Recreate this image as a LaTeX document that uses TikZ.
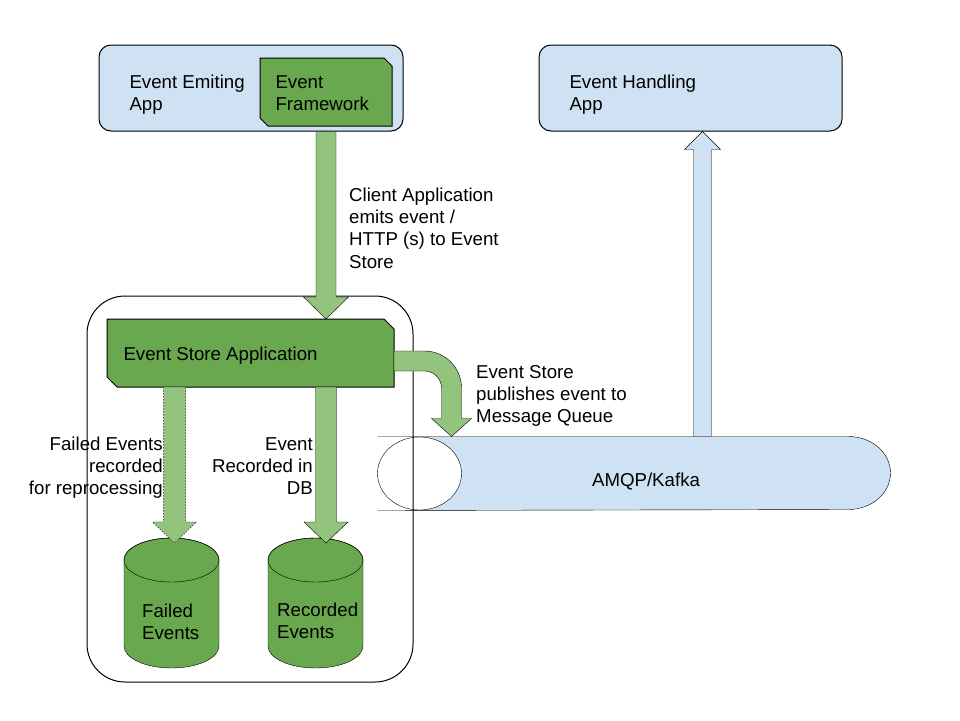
\documentclass[tikz,border=0pt]{standalone}
\usepackage{fontspec}
\setmainfont{Liberation Sans}
\usetikzlibrary{calc}
\usetikzlibrary{backgrounds}

\definecolor{appblue}{HTML}{CFE2F3}
\definecolor{darkgreen}{HTML}{6AA84F}
\definecolor{lightgreen}{HTML}{93C47D}

\tikzset{
  appbox/.style={draw, fill=appblue, rounded corners=12pt, minimum width=#1, minimum height=86pt},
  txt/.style={inner sep=0pt, align=left},
  fatgreen/.style={draw, fill=lightgreen},
  fatdash/.style={draw=black!65, fill=lightgreen, dash pattern=on 1.5pt off 1.5pt, line width=0.8pt},
  fatblue/.style={draw, fill=appblue},
  dbbody/.style={draw, fill=darkgreen}
}

\newcommand{\fatarrow}[6][]{%
  \coordinate (fa-tip) at (#2 |- #3);
  \filldraw[#1] ($(#2)+(-#4,0)$) -- ($(fa-tip)+(-#4,#6)$) -- ($(fa-tip)+(-#5,#6)$) -- (fa-tip)
    -- ($(fa-tip)+(#5,#6)$) -- ($(fa-tip)+(#4,#6)$) -- ($(#2)+(#4,0)$) -- cycle;}

\newcommand{\snipbox}[2]{%
  \filldraw[dbbody] (#1.north west) -- ($(#1.north east)+(-#2,0)$) -- ($(#1.north east)+(0,#2)$)
    -- (#1.south east) -- ($(#1.south west)+(#2,0)$) -- ($(#1.south west)+(0,-#2)$) -- cycle;}

\newcommand{\drawdb}[1]{%
  \filldraw[dbbody] ($(#1.north west)+(0,22)$) -- ($(#1.south west)+(0,-22)$)
    arc[start angle=180, end angle=0, x radius=47.5, y radius=22]
    -- ($(#1.north east)+(0,22)$)
    arc[start angle=0, end angle=-180, x radius=47.5, y radius=22] -- cycle;
  \draw ($(#1.north)+(0,22)$) ellipse[x radius=47.5, y radius=22];}

\begin{document}
\begin{tikzpicture}[x=1pt, y=-1pt, line width=1pt, font=\fontsize{18.67}{22.4}\selectfont]
\useasboundingbox (0,0) rectangle (960,720);

\node[appbox=304pt] (emitapp) at (251,88) {};
\node[appbox=303pt] (handleapp) at (690.5,88) {};
\node[minimum width=132pt, minimum height=68pt, outer sep=0pt] (framework) at (326,92) {};
\snipbox{framework}{8}
\node[txt, anchor=base west] (emittxt) at (129,110.4) {Event Emiting\\App};
\node[txt, anchor=base west] (fwktxt) at (275,110.4) {Event\\Framework};
\node[txt, anchor=base west] (handletxt) at (569,110.4) {Event Handling\\App};

\node[draw, rounded corners=38pt, minimum width=326pt, minimum height=386pt] (storebox) at (250,489) {};
\node[minimum width=287pt, minimum height=68pt, outer sep=0pt] (storeapp) at (250.5,353) {};
\snipbox{storeapp}{10}
\node[txt, anchor=base west] (storetxt) at (123,360) {Event Store Application};

% message queue, lying cylinder
\node[minimum width=512pt, minimum height=73pt] (mq) at (634,473.5) {};
\begin{pgfonlayer}{background}
\fill[appblue] (mq.north west -| storebox.east) -- ($(mq.north east)+(-42,0)$)
  arc[start angle=-90, end angle=90, x radius=42, y radius=36.5] -- (mq.south west -| storebox.east) -- cycle;
\filldraw[fill=white] ($(mq.west)+(42,0)$) ellipse[x radius=42, y radius=36.5];
\draw (mq.north west) -- ($(mq.north east)+(-42,0)$)
  arc[start angle=-90, end angle=90, x radius=42, y radius=36.5] -- (mq.south west);
\end{pgfonlayer}
\node[txt, anchor=base] (mqtxt) at (646,486) {AMQP/Kafka};

% databases
\node[minimum width=95pt, minimum height=130pt, outer sep=0pt] (faileddb) at (171.5,603) {};
\node[minimum width=95pt, minimum height=130pt, outer sep=0pt] (recordeddb) at (315.5,603) {};
\drawdb{faileddb}
\drawdb{recordeddb}
\node[txt, anchor=base west] (failtxt) at (142,639.4) {Failed\\Events};
\node[txt, anchor=base west] (rectxt) at (277,638.4) {Recorded\\Events};

% arrows
\coordinate (emitout) at (emitapp.south -| framework.south);
\fatarrow[fatgreen]{emitout}{storeapp.north}{10}{22.5}{-22}
\coordinate (failout) at ($(storeapp.south -| faileddb.north)+(3,0)$);
\coordinate (failin) at ($(faileddb.north)+(0,5)$);
\fatarrow[fatdash]{failout}{failin}{11}{22}{-21}
\coordinate (recout) at (storeapp.south -| emitout);
\coordinate (recin) at ($(recordeddb.north)+(0,5)$);
\fatarrow[fatgreen]{recout}{recin}{10.5}{22}{-21}
\coordinate (mqout) at ($(mq.north west)+(325,0)$);
\fatarrow[fatblue]{mqout}{handleapp.south}{9}{18}{18}

\coordinate (pubout) at ($(storeapp.east)+(0,8)$);
\coordinate (pubin) at ($(mq.north west)+(74,0)$);
\filldraw[fatgreen] ($(pubout)+(0,-10)$) -- ($(pubout -| pubin)+(-27,-10)$)
  arc[start angle=-90, end angle=0, radius=37] -- ($(pubin)+(10,-18)$) -- ($(pubin)+(20,-18)$)
  -- (pubin) -- ($(pubin)+(-20,-18)$) -- ($(pubin)+(-10,-18)$) -- ($(pubout -| pubin)+(-10,27)$)
  arc[start angle=0, end angle=-90, radius=17] -- ($(pubout)+(0,10)$) -- cycle;

\node[txt, anchor=base west] (clientlbl) at (349,268.2) {Client Application\\emits event /\\HTTP (s) to Event\\Store};
\node[txt, anchor=base west] (publbl) at (476,422.8) {Event Store\\publishes event to\\Message Queue};
\node[txt, anchor=base east, align=right] (faillbl) at (163,494.8) {Failed Events\\recorded\\for reprocessing};
\node[txt, anchor=base east, align=right] (reclbl) at (313,494.8) {Event\\Recorded in\\DB};
\end{tikzpicture}
\end{document}
